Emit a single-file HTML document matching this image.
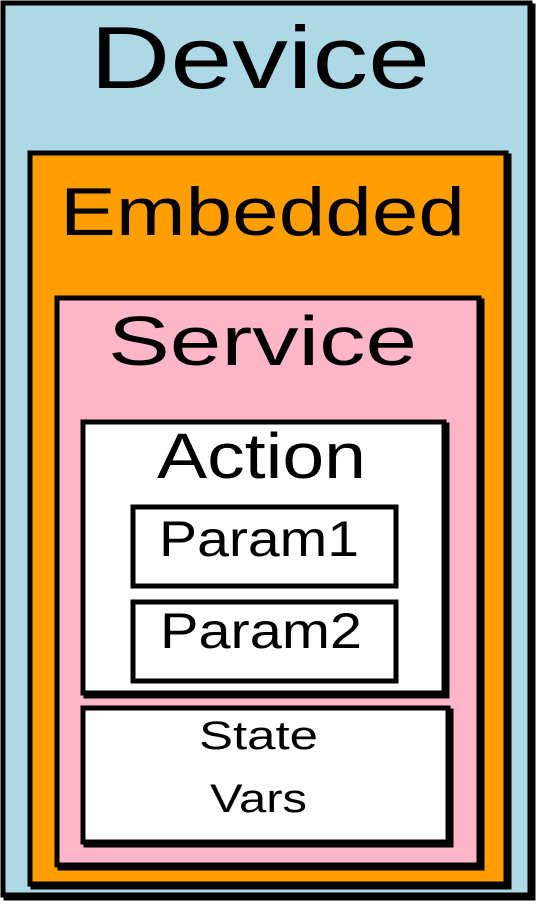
<!DOCTYPE html>
<html><head><style>html,body{margin:0;padding:0;background:#fff}</style></head>
<body>
<svg width="538" height="901" xmlns="http://www.w3.org/2000/svg" font-family="Liberation Sans, sans-serif">
<g stroke="#000" stroke-width="5">
<rect x="6" y="6" width="527" height="892" fill="#000"/>
<rect x="3" y="3" width="527" height="892" fill="#add8e6"/>
<rect x="33" y="156" width="476" height="731" fill="#000"/>
<rect x="30" y="153" width="476" height="731" fill="#ff9e00"/>
<rect x="60" y="301" width="422" height="567" fill="#000"/>
<rect x="57" y="298" width="422" height="567" fill="#ffb6c9"/>
<rect x="86" y="425" width="361" height="271" fill="#000"/>
<rect x="83" y="422" width="361" height="271" fill="#fff"/>
<rect x="133" y="507" width="263" height="79" fill="#fff"/>
<rect x="133" y="602" width="263" height="79" fill="#fff"/>
<rect x="86" y="711" width="365" height="134" fill="#000"/>
<rect x="83" y="708" width="365" height="134" fill="#fff"/>
</g>
<g fill="#000" text-anchor="start">
<text x="90" y="88" font-size="88" textLength="340" lengthAdjust="spacingAndGlyphs">Device</text>
<text x="60" y="235" font-size="68" textLength="405" lengthAdjust="spacingAndGlyphs">Embedded</text>
<text x="108" y="365" font-size="70" textLength="309" lengthAdjust="spacingAndGlyphs">Service</text>
<text x="157" y="478" font-size="64" textLength="209" lengthAdjust="spacingAndGlyphs">Action</text>
<text x="159" y="556" font-size="50" textLength="200" lengthAdjust="spacingAndGlyphs">Param1</text>
<text x="160" y="648" font-size="50" textLength="202" lengthAdjust="spacingAndGlyphs">Param2</text>
<text x="199" y="749" font-size="40" textLength="119" lengthAdjust="spacingAndGlyphs">State</text>
<text x="210" y="812" font-size="40" textLength="97" lengthAdjust="spacingAndGlyphs">Vars</text>
</g>
</svg>
</body></html>
